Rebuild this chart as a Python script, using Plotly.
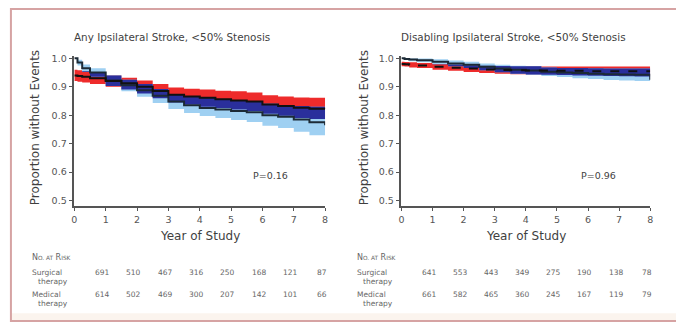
import numpy as np
import plotly.graph_objects as go

W, H = 676, 324

# ---------------- data ----------------
years = [0, 0.1, 0.25, 0.5, 1, 1.5, 2, 2.5, 3, 3.5, 4, 4.5, 5, 5.5, 6, 6.5, 7, 7.5, 8]

# Panel A: Any ipsilateral stroke, <50% stenosis
any_surg    = [0.94, 0.938, 0.935, 0.93, 0.92, 0.912, 0.90, 0.885, 0.872, 0.866, 0.861, 0.856, 0.852, 0.848, 0.838, 0.832, 0.826, 0.823, 0.822]
any_surg_lo = [0.92, 0.918, 0.915, 0.91, 0.90, 0.89, 0.876, 0.86, 0.845, 0.838, 0.83, 0.825, 0.82, 0.815, 0.805, 0.798, 0.79, 0.787, 0.786]
any_surg_hi = [0.96, 0.958, 0.955, 0.95, 0.94, 0.932, 0.922, 0.91, 0.897, 0.893, 0.89, 0.886, 0.884, 0.88, 0.87, 0.866, 0.862, 0.861, 0.861]
any_med     = [1.0, 0.985, 0.965, 0.95, 0.922, 0.905, 0.888, 0.868, 0.848, 0.835, 0.825, 0.82, 0.815, 0.81, 0.80, 0.795, 0.785, 0.775, 0.765]
any_med_lo  = [1.0, 0.975, 0.952, 0.935, 0.903, 0.884, 0.865, 0.843, 0.822, 0.808, 0.797, 0.79, 0.783, 0.776, 0.763, 0.755, 0.742, 0.73, 0.715]
any_med_hi  = [1.0, 0.995, 0.978, 0.965, 0.94, 0.925, 0.91, 0.892, 0.873, 0.864, 0.862, 0.856, 0.852, 0.848, 0.84, 0.836, 0.832, 0.83, 0.83]

# Panel B: Disabling ipsilateral stroke, <50% stenosis
dis_surg    = [0.98, 0.979, 0.977, 0.975, 0.97, 0.967, 0.964, 0.961, 0.959, 0.958, 0.957, 0.957, 0.956, 0.956, 0.955, 0.955, 0.955, 0.955, 0.955]
dis_surg_lo = [0.972, 0.971, 0.968, 0.966, 0.96, 0.956, 0.952, 0.948, 0.946, 0.944, 0.943, 0.942, 0.941, 0.94, 0.939, 0.938, 0.937, 0.936, 0.935]
dis_surg_hi = [0.988, 0.987, 0.986, 0.984, 0.98, 0.978, 0.976, 0.974, 0.973, 0.972, 0.972, 0.971, 0.971, 0.971, 0.971, 0.971, 0.971, 0.971, 0.971]
dis_med     = [1.0, 0.998, 0.996, 0.993, 0.988, 0.982, 0.977, 0.97, 0.964, 0.96, 0.957, 0.953, 0.95, 0.948, 0.946, 0.944, 0.943, 0.942, 0.925]
dis_med_lo  = [1.0, 0.994, 0.99, 0.986, 0.979, 0.972, 0.966, 0.958, 0.951, 0.946, 0.942, 0.938, 0.934, 0.93, 0.927, 0.924, 0.922, 0.92, 0.885]
dis_med_hi  = [1.0, 1.0, 0.999, 0.999, 0.997, 0.992, 0.988, 0.982, 0.977, 0.974, 0.972, 0.968, 0.966, 0.966, 0.965, 0.964, 0.964, 0.964, 0.962]

# Numbers at risk
any_risk_surg = [691, 510, 467, 316, 250, 168, 121, 87]
any_risk_med  = [614, 502, 469, 300, 207, 142, 101, 66]
dis_risk_surg = [641, 553, 443, 349, 275, 190, 138, 78]
dis_risk_med  = [661, 582, 465, 360, 245, 167, 119, 79]

titles = ["Any Ipsilateral Stroke, &lt;50% Stenosis",
          "Disabling Ipsilateral Stroke, &lt;50% Stenosis"]
pvalues = ["P=0.16", "P=0.96"]
y_ticks = [0.5, 0.6, 0.7, 0.8, 0.9, 1.0]
x_ticks = [0, 1, 2, 3, 4, 5, 6, 7, 8]

# ---------------- style ----------------
RED = "#ee2b2b"
LIGHT = "#9fd0f2"
NAVY = "#2a2f9c"
FONT = "DejaVu Sans, Verdana, sans-serif"
TXT = "#3f3f3f"
TBL = "#666666"


def px(x):
    return x / W


def py(y):
    return 1 - y / H


fig = go.Figure()


def band(lo, hi, color, xa, ya):
    fig.add_trace(go.Scatter(x=years, y=lo, mode="lines", line=dict(width=0, shape="hv"),
                             xaxis=xa, yaxis=ya, showlegend=False, hoverinfo="skip"))
    fig.add_trace(go.Scatter(x=years, y=hi, mode="lines", line=dict(width=0, shape="hv"),
                             fill="tonexty", fillcolor=color,
                             xaxis=xa, yaxis=ya, showlegend=False, hoverinfo="skip"))


panels = [
    (any_surg, any_surg_lo, any_surg_hi, any_med, any_med_lo, any_med_hi, "x", "y", "solid"),
    (dis_surg, dis_surg_lo, dis_surg_hi, dis_med, dis_med_lo, dis_med_hi, "x2", "y2", "dash"),
]

for s, slo, shi, m, mlo, mhi, xa, ya, sdash in panels:
    band(slo, shi, RED, xa, ya)
    band(mlo, mhi, LIGHT, xa, ya)
    olo = np.maximum(slo, mlo)
    ohi = np.maximum(np.minimum(shi, mhi), olo)
    band(list(olo), list(ohi), NAVY, xa, ya)
    fig.add_trace(go.Scatter(x=years, y=m, mode="lines",
                             line=dict(color="#1c2a36", width=2, shape="hv"),
                             xaxis=xa, yaxis=ya, showlegend=False))
    fig.add_trace(go.Scatter(x=years, y=s, mode="lines",
                             line=dict(color="#111111", width=2, shape="hv", dash=sdash),
                             xaxis=xa, yaxis=ya, showlegend=False))

# axes geometry (pixels)
ax_left = [72, 402]
ax_right = [325, 653]
y_top, y_bot = 53, 205
y_range = [0.5 - 6 / 288, 1.0 + 2 / 288]

common_x = dict(range=[0, 8], tickvals=x_ticks, ticks="outside", ticklen=3, tickwidth=1,
                tickcolor="#555", showline=True, linecolor="#555", linewidth=1.5,
                showgrid=False, zeroline=False,
                tickfont=dict(family=FONT, size=9.5, color="#555"))
common_y = dict(range=y_range, tickvals=y_ticks, ticktext=[f"{v:.1f}" for v in y_ticks],
                ticks="outside", ticklen=4, tickwidth=1, tickcolor="#555",
                showline=True, linecolor="#555", linewidth=1.5,
                showgrid=False, zeroline=False,
                tickfont=dict(family=FONT, size=9.5, color="#555"))

fig.update_layout(
    width=W, height=H,
    margin=dict(l=0, r=0, t=0, b=0),
    paper_bgcolor="white", plot_bgcolor="rgba(0,0,0,0)",
    xaxis=dict(domain=[px(ax_left[0]), px(ax_right[0])], anchor="y", **common_x),
    yaxis=dict(domain=[py(y_bot), py(y_top)], anchor="x", **common_y),
    xaxis2=dict(domain=[px(ax_left[1]), px(ax_right[1])], anchor="y2", **common_x),
    yaxis2=dict(domain=[py(y_bot), py(y_top)], anchor="x2", **common_y),
)

# frame
fig.add_shape(type="rect", xref="paper", yref="paper",
              x0=px(8), x1=px(W + 10), y0=py(313), y1=py(320),
              fillcolor="#fbf4ee", line=dict(width=0), layer="below")
fig.add_shape(type="rect", xref="paper", yref="paper",
              x0=px(8), x1=px(W + 10), y0=py(321), y1=py(5),
              line=dict(color="#d6a3a3", width=2), fillcolor="rgba(0,0,0,0)")

ann = []
title_cx = [171, 515]
p_cx = [270, 601]
ylab_x = [33, 365]
for i in range(2):
    ann.append(dict(text=titles[i], x=px(title_cx[i]), y=py(33), xref="paper", yref="paper",
                    showarrow=False, xanchor="center", yanchor="middle",
                    font=dict(family=FONT, size=10.4, color=TXT)))
    ann.append(dict(text=pvalues[i], x=px(p_cx[i]), y=py(174), xref="paper", yref="paper",
                    showarrow=False, xanchor="center", yanchor="middle",
                    font=dict(family=FONT, size=9.5, color=TXT)))
    ann.append(dict(text="Proportion without Events", x=px(ylab_x[i]), y=py(125),
                    xref="paper", yref="paper", textangle=-90, showarrow=False,
                    xanchor="center", yanchor="middle",
                    font=dict(family=FONT, size=12, color=TXT)))
    ann.append(dict(text="Year of Study", x=px((ax_left[i] + ax_right[i]) / 2), y=py(235),
                    xref="paper", yref="paper", showarrow=False,
                    xanchor="center", yanchor="middle",
                    font=dict(family=FONT, size=12, color=TXT)))

# at-risk table
label_x = [27, 355]
risk_rows = [(any_risk_surg, any_risk_med), (dis_risk_surg, dis_risk_med)]
small = "<span style='font-size:5.8px'>"
for i in range(2):
    lx = label_x[i]
    ann.append(dict(text=f"N{small}O. AT</span> R{small}ISK</span>", x=px(lx), y=py(257),
                    xref="paper", yref="paper", showarrow=False, xanchor="left", yanchor="middle",
                    font=dict(family=FONT, size=8, color=TBL)))
    for label, yy in [("Surgical", 272), ("Medical", 294)]:
        ann.append(dict(text=label, x=px(lx), y=py(yy), xref="paper", yref="paper",
                        showarrow=False, xanchor="left", yanchor="middle",
                        font=dict(family=FONT, size=7.5, color=TBL)))
        ann.append(dict(text="therapy", x=px(lx + 6), y=py(yy + 9), xref="paper", yref="paper",
                        showarrow=False, xanchor="left", yanchor="middle",
                        font=dict(family=FONT, size=7.5, color=TBL)))
    xref = "x" if i == 0 else "x2"
    for row, yy in zip(risk_rows[i], [272, 294]):
        for k, n in enumerate(row):
            ann.append(dict(text=str(n), x=k + 0.9, y=py(yy), xref=xref, yref="paper",
                            showarrow=False, xanchor="center", yanchor="middle",
                            font=dict(family=FONT, size=7.5, color=TBL)))

fig.update_layout(annotations=ann)
fig.write_html("out.html")
